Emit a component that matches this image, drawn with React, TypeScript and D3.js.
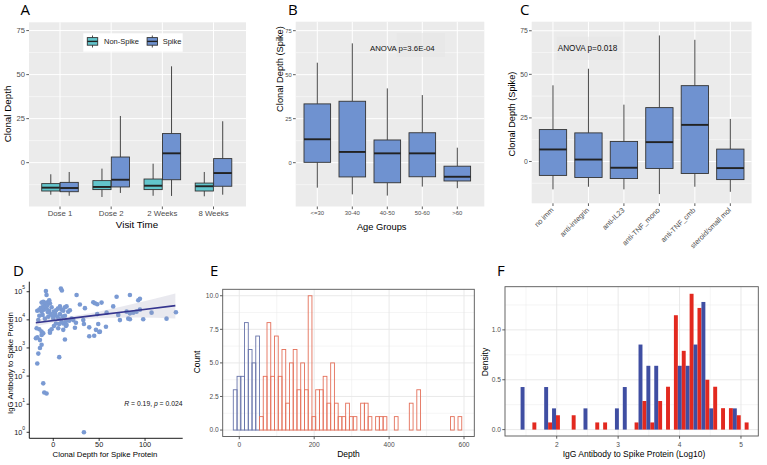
import React from "react";
import * as d3 from "d3";

// ---------------- DATA ----------------
// box stats: [lower whisker, q1, median, q3, upper whisker]
const A_CATS = ["Dose 1", "Dose 2", "2 Weeks", "8 Weeks"];
const A_GROUPS = ["Non-Spike", "Spike"];
const A_NONSPIKE = [
  [-18.2, -16.1, -14.2, -11.9, -6.6],
  [-19.5, -15.3, -13.8, -10.2, -3.4],
  [-18.8, -15.3, -13.1, -9.3, -0.6],
  [-19.1, -16.1, -13.4, -11.6, -5.3],
];
const A_SPIKE = [
  [-18.8, -16.5, -14.4, -11.2, -5.3],
  [-17.2, -13.8, -9.7, 3.2, 26.5],
  [-18.9, -9.7, 5.3, 16.5, 54.7],
  [-18.2, -13.4, -5.9, 2.3, 23.5],
];

const B_CATS = ["<=30", "30-40", "40-50", "50-60", ">60"];
const B_STATS = [
  [-14.2, 0.2, 13.3, 33.4, 56.8],
  [-18.0, -8.1, 6.1, 34.9, 67.8],
  [-18.7, -11.4, 5.3, 12.9, 42.2],
  [-13.6, -8.0, 5.3, 17.0, 38.4],
  [-14.5, -10.4, -8.0, -2.0, 8.5],
];
const B_ANOVA = "ANOVA p=3.6E-04";

const C_CATS = ["no imm", "anti-integrin", "anti-IL23", "anti-TNF_mono", "anti-TNF_cmb", "steroid/small mol"];
const C_STATS = [
  [-16.0, -8.0, 6.9, 18.3, 43.7],
  [-14.5, -9.2, 1.1, 16.4, 53.2],
  [-16.0, -9.8, -3.6, 11.5, 32.6],
  [-18.7, -4.0, 11.1, 30.9, 72.3],
  [-14.5, -6.9, 21.0, 43.5, 69.8],
  [-17.4, -10.4, -3.8, 7.1, 24.4],
];
const C_ANOVA = "ANOVA p=0.018";

const BOX_TICKS = [0, 25, 50, 75];
const BOX_MINOR = [-12.5, 12.5, 37.5, 62.5];

// D scatter: clonal depth vs IgG
const D_DEPTH = [
  -8.0, -7.3, 8.3, 9.4, 25.4, -12.7, -10.9, -7.3, -4.4, -3.6, 43.6, 45.4, 47.9, 52.6, 69.0, 83.5, 92.6, 94.4, 29.0,
  -17.4, -15.2, -12.7, -10.2, -7.3, -4.4, -1.8, 0.7, 7.3, 9.1, 10.9, 12.7, 14.5, 16.3, 18.1, 34.5, 58.1, 65.3, 79.9,
  83.5, 87.1, 90.7, 94.4, 107.1, 133.6, -15.2, -11.6, -9.1, -5.4, -2.9, 1.8, 4.4, 7.3, 10.2, 12.7, 14.5, 17.4, 20.0,
  21.8, 32.7, 47.9, 70.8, 83.5, 98.0, 123.4, 9.1, 13.8, 0.0, -16.3, 72.6, 81.7, -18.1, -15.2, -12.7, -3.6, -1.8, 0.7,
  2.9, 6.5, 10.9, 14.5, 5.4, 10.9, 13.8, 23.6, 24.7, 33.4, 39.2, 46.5, 49.0, 50.8, 57.4, -18.9, -17.4, -12.7, -10.9,
  -14.5, -3.6, 12.7, 39.2, 44.6, 50.1, -12.7, -14.5, -16.3, -17.4, -10.9, -9.8, -7.3, 6.5, 33.4, -6.0, 3.0, -13.5,
  5.0, -9.0, -6.5, -11.0, 2.0, -1.0, 6.0,
];
const D_IGG = [
  105000, 76000, 130000, 110000, 76000, 41000, 44000, 41000, 50000, 39000, 42000, 39000, 36000, 41000, 66000, 76000,
  50000, 56000, 35000, 21000, 23000, 19500, 23000, 26000, 21000, 28000, 19500, 30000, 23000, 21000, 28000, 30000, 19500,
  22000, 26000, 18000, 30000, 19500, 17000, 18000, 19500, 23000, 18000, 18500, 14000, 15000, 11000, 13000, 16000, 15000,
  13000, 16000, 13000, 14000, 9800, 9300, 11000, 9800, 9800, 16000, 15000, 10500, 10500, 11000, 8500, 9100, 11000,
  9800, 9800, 11000, 5000, 4600, 3800, 4100, 4600, 6000, 7400, 7100, 7400, 6600, 5000, 4400, 6000, 5200, 7900, 7100,
  5400, 4400, 7100, 3800, 5700, 2200, 2400, 2900, 3300, 1900, 3500, 2000, 2600, 2700, 3700, 1300, 1000, 630, 280, 55,
  26, 24, 470, 1.0, 19000, 22000, 27000, 25000, 35000, 33000, 30000, 17000, 14000, 11000,
];
const D_FIT_X = [-19, 10, 50, 90, 133];
const D_FIT_Y = [7900, 10400, 15000, 21600, 32000];
const D_FIT_LO = [5860, 8850, 11400, 12200, 11200];
const D_FIT_HI = [10700, 12200, 19800, 38500, 87000];
const D_XTICKS = [0, 50, 100];
const D_YTICKS = [0, 1, 2, 3, 4, 5]; // powers of ten

// E histogram of depth (binwidth 10, first bin starts at -16)
const E_BIN_START = -16;
const E_BIN_W = 10;
const E_BLUE = [3, 4, 4, 8, 6, 5, 7, 0, 0, 0, 0, 0, 0, 0, 0, 0, 0, 0, 0, 0, 0, 0, 0, 0, 0, 0, 0, 0, 0, 0, 0, 0, 0, 0, 0, 0, 0, 0, 0, 0, 0, 0, 0, 0, 0, 0, 0, 0, 0, 0, 0, 0, 0, 0, 0, 0, 0, 0, 0, 0, 0];
const E_RED = [0, 0, 0, 0, 0, 0, 0, 1, 4, 8, 4, 7, 4, 6, 2, 5, 6, 3, 5, 3, 10, 1, 3, 3, 4, 2, 5, 2, 1, 1, 2, 1, 1, 0, 2, 2, 1, 0, 1, 1, 1, 0, 0, 1, 0, 0, 0, 2, 0, 3, 0, 0, 0, 0, 0, 0, 0, 0, 1, 0, 1];
const E_XTICKS = [0, 200, 400, 600];
const E_XMINOR = [100, 300, 500];
const E_YTICKS = [0, 2.5, 5, 7.5, 10];
const E_YMINOR = [1.25, 3.75, 6.25, 8.75];

// F density histogram (dodged), bin mids of log10 IgG
const F_BIN_W = 0.128;
const F_MIDS = [1.476, 1.604, 1.732, 1.86, 1.988, 2.116, 2.244, 2.372, 2.5, 2.628, 2.756, 2.884, 3.012, 3.14, 3.268, 3.396, 3.524, 3.652, 3.78, 3.908, 4.036, 4.164, 4.292, 4.42, 4.548, 4.676, 4.804, 4.932, 5.06];
const F_BLUE = [0.427, 0, 0, 0.427, 0.213, 0, 0, 0, 0.213, 0, 0, 0, 0.213, 0.427, 0, 0.853, 0.64, 0.64, 0, 0, 0.64, 0.64, 0.853, 1.28, 0.213, 0, 0, 0.213, 0];
const F_RED = [0, 0.072, 0, 0.072, 0.144, 0, 0.144, 0, 0, 0.072, 0.072, 0, 0, 0, 0.072, 0.287, 0.072, 0.287, 0.43, 1.147, 0.79, 1.362, 1.22, 0.5, 0.43, 0.215, 0.215, 0.144, 0.072];
const F_XTICKS = [2, 3, 4, 5];
const F_XMINOR = [1.5, 2.5, 3.5, 4.5];
const F_YTICKS = [0, 0.5, 1.0];
const F_YMINOR = [0.25, 0.75, 1.25];

// ---------------- STYLE ----------------
const FONT = "'Liberation Sans', Arial, Helvetica, sans-serif";
const LETTER_FONT = "'Open Sans', 'Noto Sans', sans-serif";
const TEAL = "#62c5cc";
const BLUE = "#6f92d0";
const OUT = "#333333";
const TICKTXT = "#4d4d4d";

type Scale = (v: number) => number;

function BoxGlyph({ cx, w, v, y, fill }: { cx: number; w: number; v: number[]; y: Scale; fill: string }) {
  const [lo, q1, med, q3, hi] = v;
  return (
    <g>
      <line x1={cx} x2={cx} y1={y(hi)} y2={y(q3)} stroke={OUT} strokeWidth={0.9} />
      <line x1={cx} x2={cx} y1={y(q1)} y2={y(lo)} stroke={OUT} strokeWidth={0.9} />
      <rect x={cx - w / 2} y={y(q3)} width={w} height={y(q1) - y(q3)} fill={fill} stroke={OUT} strokeWidth={0.9} />
      <line x1={cx - w / 2} x2={cx + w / 2} y1={y(med)} y2={y(med)} stroke="#222" strokeWidth={1.9} />
    </g>
  );
}

function GreyPanel({ x0, x1, y0, y1, y, xs }: { x0: number; x1: number; y0: number; y1: number; y: Scale; xs: number[] }) {
  return (
    <g>
      <rect x={x0} y={y0} width={x1 - x0} height={y1 - y0} fill="#ebebeb" />
      {BOX_MINOR.map((v) => (
        <line key={"m" + v} x1={x0} x2={x1} y1={y(v)} y2={y(v)} stroke="#fff" strokeWidth={0.5} />
      ))}
      {BOX_TICKS.map((v) => (
        <line key={"M" + v} x1={x0} x2={x1} y1={y(v)} y2={y(v)} stroke="#fff" strokeWidth={1} />
      ))}
      {xs.map((x, i) => (
        <line key={"x" + i} x1={x} x2={x} y1={y0} y2={y1} stroke="#fff" strokeWidth={1} />
      ))}
    </g>
  );
}

function YTicks({ x0, y, fs, ticks }: { x0: number; y: Scale; fs: number; ticks: number[] }) {
  return (
    <g>
      {ticks.map((v) => (
        <g key={v}>
          <line x1={x0 - 2.7} x2={x0} y1={y(v)} y2={y(v)} stroke={OUT} strokeWidth={0.8} />
          <text x={x0 - 4} y={y(v)} dy="0.35em" textAnchor="end" fontSize={fs} fill={TICKTXT}>
            {v}
          </text>
        </g>
      ))}
    </g>
  );
}

function XTickMarks({ xs, y1 }: { xs: number[]; y1: number }) {
  return (
    <g>
      {xs.map((x, i) => (
        <line key={i} x1={x} x2={x} y1={y1} y2={y1 + 2.7} stroke={OUT} strokeWidth={0.8} />
      ))}
    </g>
  );
}

function Letter({ x, y, t }: { x: number; y: number; t: string }) {
  return (
    <text x={x} y={y} fontFamily={LETTER_FONT} fontSize={15} fill="#000">
      {t}
    </text>
  );
}

function PanelA() {
  const x0 = 29, x1 = 246, y0 = 22.3, y1 = 206.5;
  const x = d3.scalePoint<string>().domain(A_CATS).range([29.3, 244.2]).padding(0.6);
  const step = x.step();
  const y = d3.scaleLinear().domain([-24.9, 79.7]).range([y1, y0]);
  const bw = 0.355 * step;
  const off = 0.18 * step;
  const xs = A_CATS.map((c) => x(c) as number);
  return (
    <g>
      <GreyPanel x0={x0} x1={x1} y0={y0} y1={y1} y={y} xs={xs} />
      {A_CATS.map((c, i) => (
        <g key={c}>
          <BoxGlyph cx={(x(c) as number) - off} w={bw} v={A_NONSPIKE[i]} y={y} fill={TEAL} />
          <BoxGlyph cx={(x(c) as number) + off} w={bw} v={A_SPIKE[i]} y={y} fill={BLUE} />
        </g>
      ))}
      {/* legend */}
      <rect x={83.3} y={33.3} width={99.4} height={18.4} fill="#fff" />
      {A_GROUPS.map((g, i) => {
        const kx = i === 0 ? 92.5 : 152.3;
        const tx = i === 0 ? 104 : 162.7;
        return (
          <g key={g}>
            <line x1={kx} x2={kx} y1={35.5} y2={47.5} stroke={OUT} strokeWidth={0.9} />
            <rect x={kx - 5.2} y={37.6} width={10.4} height={7.6} fill={i === 0 ? TEAL : BLUE} stroke={OUT} strokeWidth={0.9} />
            <line x1={kx - 5.2} x2={kx + 5.2} y1={41.4} y2={41.4} stroke="#222" strokeWidth={1.4} />
            <text x={tx} y={41.5} dy="0.35em" fontSize={7.5} fill="#222">
              {g}
            </text>
          </g>
        );
      })}
      <YTicks x0={x0} y={y} fs={7.6} ticks={BOX_TICKS} />
      <XTickMarks xs={xs} y1={y1} />
      {A_CATS.map((c) => (
        <text key={c} x={x(c) as number} y={215.8} textAnchor="middle" fontSize={7.8} fill={TICKTXT}>
          {c}
        </text>
      ))}
      <text x={137} y={228} textAnchor="middle" fontSize={9.8} fill="#000">
        Visit Time
      </text>
      <text transform="translate(11,114) rotate(-90)" textAnchor="middle" fontSize={9.8} fill="#000">
        Clonal Depth
      </text>
      <Letter x={20.5} y={14.5} t="A" />
    </g>
  );
}

function PanelB() {
  const x0 = 295.7, x1 = 484.3, y0 = 21.7, y1 = 206.5;
  const x = d3.scalePoint<string>().domain(B_CATS).range([296.3, 478.3]).padding(0.6);
  const step = x.step();
  const y = d3.scaleLinear().domain([-24.9, 80.1]).range([y1, y0]);
  const xs = B_CATS.map((c) => x(c) as number);
  return (
    <g>
      <GreyPanel x0={x0} x1={x1} y0={y0} y1={y1} y={y} xs={xs} />
      <rect x={396.7} y={33} width={48.3} height={24} fill="#e6e6e6" opacity={0.6} />
      <text x={370} y={48.5} dy="0.35em" fontSize={7.8} fill="#111">
        {B_ANOVA}
      </text>
      {B_CATS.map((c, i) => (
        <BoxGlyph key={c} cx={x(c) as number} w={0.76 * step} v={B_STATS[i]} y={y} fill={BLUE} />
      ))}
      <YTicks x0={x0} y={y} fs={5.8} ticks={BOX_TICKS} />
      <XTickMarks xs={xs} y1={y1} />
      {B_CATS.map((c) => (
        <text key={c} x={x(c) as number} y={215.2} textAnchor="middle" fontSize={5.9} fill={TICKTXT}>
          {c}
        </text>
      ))}
      <text x={381.7} y={229.5} textAnchor="middle" fontSize={9.3} fill="#000">
        Age Groups
      </text>
      <text transform="translate(283,69) rotate(-90)" textAnchor="middle" fontSize={9.3} fill="#000">
        Clonal Depth (Spike)
      </text>
      <Letter x={288} y={14.5} t="B" />
    </g>
  );
}

function PanelC() {
  const x0 = 531.7, x1 = 751.6, y0 = 21.7, y1 = 203.3;
  const x = d3.scalePoint<string>().domain(C_CATS).range([x0, x1]).padding(0.6);
  const step = x.step();
  const y = d3.scaleLinear().domain([-24.0, 80.2]).range([y1, y0]);
  const xs = C_CATS.map((c) => x(c) as number);
  return (
    <g>
      <GreyPanel x0={x0} x1={x1} y0={y0} y1={y1} y={y} xs={xs} />
      <rect x={556.7} y={36.7} width={65} height={23.3} fill="#e6e6e6" opacity={0.6} />
      <text x={557.7} y={48.5} dy="0.35em" fontSize={8.2} fill="#111">
        {C_ANOVA}
      </text>
      {C_CATS.map((c, i) => (
        <BoxGlyph key={c} cx={x(c) as number} w={0.77 * step} v={C_STATS[i]} y={y} fill={BLUE} />
      ))}
      <YTicks x0={x0} y={y} fs={6.8} ticks={BOX_TICKS} />
      <XTickMarks xs={xs} y1={y1} />
      {C_CATS.map((c) => (
        <text
          key={c}
          transform={`translate(${(x(c) as number) - 2.5},${207}) rotate(-45)`}
          dy="0.7em"
          textAnchor="end"
          fontSize={7.2}
          fill={TICKTXT}
        >
          {c}
        </text>
      ))}
      <text transform="translate(515,114) rotate(-90)" textAnchor="middle" fontSize={9.2} fill="#000">
        Clonal Depth (Spike)
      </text>
      <Letter x={520} y={14.5} t="C" />
    </g>
  );
}

function PanelD() {
  const x0 = 29.3, x1 = 182.7, y0 = 281.7, y1 = 438.3;
  const x = d3.scaleLinear().domain([-26.1, 141]).range([x0, x1]);
  const y = d3.scaleLog().domain([Math.pow(10, -0.213), Math.pow(10, 5.356)]).range([y1, y0]);
  const band = d3
    .area<number>()
    .x((_, i) => x(D_FIT_X[i]))
    .y0((_, i) => y(D_FIT_LO[i]))
    .y1((_, i) => y(D_FIT_HI[i]))
    .curve(d3.curveMonotoneX);
  const line = d3
    .line<number>()
    .x((_, i) => x(D_FIT_X[i]))
    .y((_, i) => y(D_FIT_Y[i]));
  return (
    <g>
      {D_DEPTH.map((d, i) => (
        <circle key={i} cx={x(d)} cy={y(D_IGG[i])} r={2.3} fill="#7a9ad3" />
      ))}
      <path d={band(D_FIT_X) || ""} fill="#9a9ab8" opacity={0.22} />
      <path d={line(D_FIT_X) || ""} fill="none" stroke="#36368f" strokeWidth={1.6} />
      <line x1={x0} x2={x0} y1={y0} y2={y1} stroke="#000" strokeWidth={0.9} />
      <line x1={x0} x2={x1} y1={y1} y2={y1} stroke="#000" strokeWidth={0.9} />
      {D_YTICKS.map((p) => {
        const yy = y(Math.pow(10, p));
        return (
          <g key={p}>
            <line x1={x0 - 2.7} x2={x0} y1={yy} y2={yy} stroke="#000" strokeWidth={0.8} />
            <text x={x0 - 7} y={yy} dy="0.35em" textAnchor="end" fontSize={7.3} fill="#222">
              10
            </text>
            <text x={x0 - 7} y={yy - 2.6} textAnchor="start" fontSize={5} fill="#222">
              {p}
            </text>
          </g>
        );
      })}
      {D_XTICKS.map((v) => (
        <g key={v}>
          <line x1={x(v)} x2={x(v)} y1={y1} y2={y1 + 2.7} stroke="#000" strokeWidth={0.8} />
          <text x={x(v)} y={447} textAnchor="middle" fontSize={7.3} fill="#222">
            {v}
          </text>
        </g>
      ))}
      <text x={182.5} y={406} textAnchor="end" fontSize={6.8} fill="#111">
        <tspan fontStyle="italic">R</tspan>
        <tspan> = 0.19, </tspan>
        <tspan fontStyle="italic">p</tspan>
        <tspan> = 0.024</tspan>
      </text>
      <text x={105} y={456.5} textAnchor="middle" fontSize={7.8} fill="#000">
        Clonal Depth for Spike Protein
      </text>
      <text transform="translate(12.5,363) rotate(-90)" textAnchor="middle" fontSize={7.8} fill="#000">
        IgG Antibody to Spike Protein
      </text>
      <Letter x={13} y={275.5} t="D" />
    </g>
  );
}

function BwFrame({
  x0, x1, y0, y1, x, y, xt, xm, yt, ym, yfmt,
}: {
  x0: number; x1: number; y0: number; y1: number; x: Scale; y: Scale;
  xt: number[]; xm: number[]; yt: number[]; ym: number[]; yfmt: (v: number) => string;
}) {
  return (
    <g>
      <rect x={x0} y={y0} width={x1 - x0} height={y1 - y0} fill="#fff" />
      {xm.map((v) => (
        <line key={"xm" + v} x1={x(v)} x2={x(v)} y1={y0} y2={y1} stroke="#ebebeb" strokeWidth={0.5} />
      ))}
      {ym.map((v) => (
        <line key={"ym" + v} x1={x0} x2={x1} y1={y(v)} y2={y(v)} stroke="#ebebeb" strokeWidth={0.5} />
      ))}
      {xt.map((v) => (
        <line key={"xt" + v} x1={x(v)} x2={x(v)} y1={y0} y2={y1} stroke="#e6e6e6" strokeWidth={0.9} />
      ))}
      {yt.map((v) => (
        <line key={"yt" + v} x1={x0} x2={x1} y1={y(v)} y2={y(v)} stroke="#e6e6e6" strokeWidth={0.9} />
      ))}
      {xt.map((v) => (
        <g key={"xl" + v}>
          <line x1={x(v)} x2={x(v)} y1={y1} y2={y1 + 2.7} stroke={OUT} strokeWidth={0.8} />
          <text x={x(v)} y={447} textAnchor="middle" fontSize={6.6} fill={TICKTXT}>
            {v}
          </text>
        </g>
      ))}
      {yt.map((v) => (
        <g key={"yl" + v}>
          <line x1={x0 - 2.7} x2={x0} y1={y(v)} y2={y(v)} stroke={OUT} strokeWidth={0.8} />
          <text x={x0 - 4} y={y(v)} dy="0.35em" textAnchor="end" fontSize={6.6} fill={TICKTXT}>
            {yfmt(v)}
          </text>
        </g>
      ))}
    </g>
  );
}

function PanelE() {
  const x0 = 222.7, x1 = 474.3, y0 = 289.3, y1 = 436.5;
  const x = d3.scaleLinear().domain([-44.3, 627.5]).range([x0, x1]);
  const y = d3.scaleLinear().domain([-0.48, 10.48]).range([y1, y0]);
  const bars = (counts: number[], color: string) =>
    counts.map((c, i) => {
      const a = E_BIN_START + i * E_BIN_W;
      return (
        <rect
          key={color + i}
          x={x(a)}
          y={y(c)}
          width={x(a + E_BIN_W) - x(a)}
          height={y(0) - y(c)}
          fill="none"
          stroke={color}
          strokeWidth={0.9}
        />
      );
    });
  return (
    <g>
      <BwFrame x0={x0} x1={x1} y0={y0} y1={y1} x={x} y={y} xt={E_XTICKS} xm={E_XMINOR} yt={E_YTICKS} ym={E_YMINOR} yfmt={(v) => v.toFixed(1)} />
      {bars(E_BLUE, "#6874aa")}
      {bars(E_RED, "#e4705a")}
      <rect x={x0} y={y0} width={x1 - x0} height={y1 - y0} fill="none" stroke="#555" strokeWidth={0.9} />
      <text x={348.5} y={457} textAnchor="middle" fontSize={8.5} fill="#000">
        Depth
      </text>
      <text transform="translate(200,362) rotate(-90)" textAnchor="middle" fontSize={8.5} fill="#000">
        Count
      </text>
      <Letter x={210} y={275.5} t="E" />
    </g>
  );
}

function PanelF() {
  const x0 = 505, x1 = 758.3, y0 = 286.7, y1 = 436;
  const x = d3.scaleLinear().domain([1.158, 5.282]).range([x0, x1]);
  const y = d3.scaleLinear().domain([-0.064, 1.433]).range([y1, y0]);
  return (
    <g>
      <BwFrame x0={x0} x1={x1} y0={y0} y1={y1} x={x} y={y} xt={F_XTICKS} xm={F_XMINOR} yt={F_YTICKS} ym={F_YMINOR} yfmt={(v) => v.toFixed(1)} />
      {F_MIDS.map((m, i) => (
        <g key={i}>
          {F_BLUE[i] > 0 && (
            <rect x={x(m - F_BIN_W / 2)} y={y(F_BLUE[i])} width={x(m) - x(m - F_BIN_W / 2)} height={y(0) - y(F_BLUE[i])} fill="#3f4ea2" />
          )}
          {F_RED[i] > 0 && (
            <rect x={x(m)} y={y(F_RED[i])} width={x(m + F_BIN_W / 2) - x(m)} height={y(0) - y(F_RED[i])} fill="#e2291f" />
          )}
        </g>
      ))}
      <rect x={x0} y={y0} width={x1 - x0} height={y1 - y0} fill="none" stroke="#555" strokeWidth={0.9} />
      <text x={634} y={457} textAnchor="middle" fontSize={8.5} fill="#000">
        IgG Antibody to Spike Protein (Log10)
      </text>
      <text transform="translate(488,362) rotate(-90)" textAnchor="middle" fontSize={8.5} fill="#000">
        Density
      </text>
      <Letter x={497} y={275.5} t="F" />
    </g>
  );
}

export default function App() {
  return (
    <svg
      width={767}
      height={465}
      viewBox="0 0 767 465"
      style={{ position: "absolute", left: 0, top: 0, background: "#fff" }}
      fontFamily={FONT}
    >
      <rect width={767} height={465} fill="#fff" />
      <PanelA />
      <PanelB />
      <PanelC />
      <PanelD />
      <PanelE />
      <PanelF />
    </svg>
  );
}
